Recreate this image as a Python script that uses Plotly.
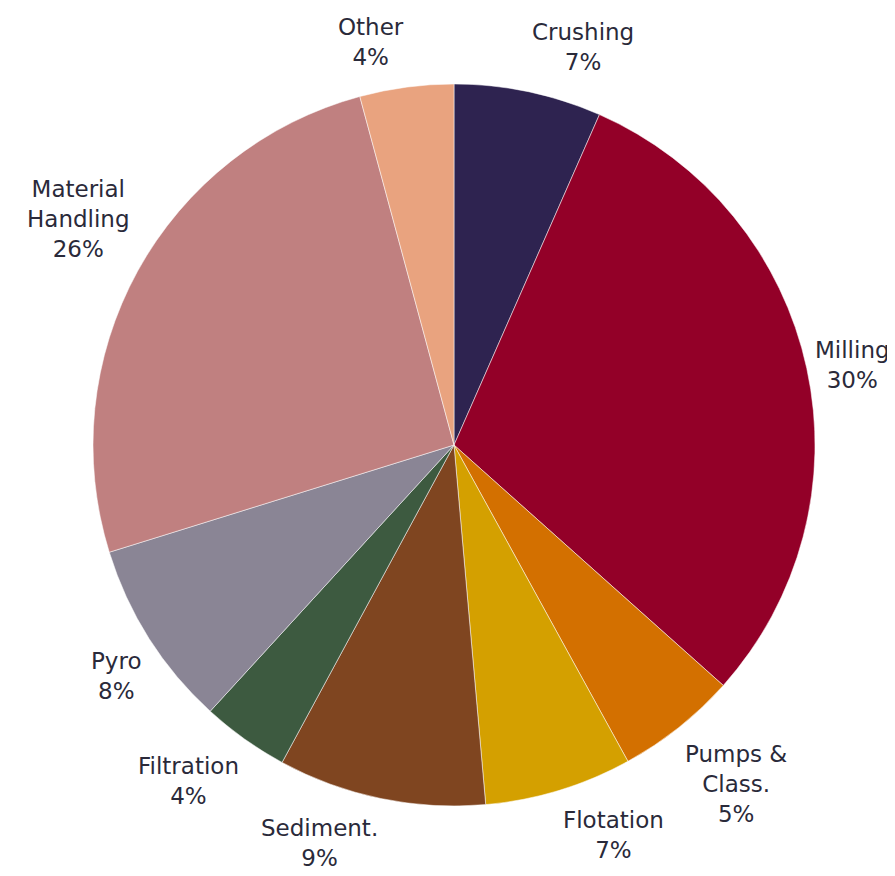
import math
import plotly.graph_objects as go

labels = ["Crushing", "Milling", "Pumps &<br>Class.", "Flotation", "Sediment.",
          "Filtration", "Pyro", "Material<br>Handling", "Other"]
values = [6.6, 30.0, 5.4, 6.6, 9.3, 3.9, 8.4, 25.6, 4.2]
pct_labels = ["7%", "30%", "5%", "7%", "9%", "4%", "8%", "26%", "4%"]
colors = ["#2e2350", "#930028", "#d37000", "#d4a000", "#7f4520",
          "#3d5a40", "#8a8595", "#c08080", "#e9a37f"]

W, H = 895, 876
cx, cy, r = 446, 437, 361
gap_x, gap_y = 6, 15

fig = go.Figure(go.Pie(
    labels=labels,
    values=values,
    textinfo="none",
    sort=False,
    direction="clockwise",
    rotation=0,
    marker=dict(colors=colors, line=dict(color="rgba(255,255,255,0.5)", width=1)),
    showlegend=False,
    hoverinfo="label+percent",
    domain=dict(x=[(cx - r) / W, (cx + r) / W], y=[(H - cy - r) / H, (H - cy + r) / H]),
))

# outside labels placed around the slice mid-angles (Excel-like anchoring)
total = sum(values)
cum = 0.0
annotations = []
for lab, pct, v in zip(labels, pct_labels, values):
    mid = (cum + v / 2) / total * 2 * math.pi
    cum += v
    s, c = math.sin(mid), math.cos(mid)
    px = cx + (r + gap_x) * s
    py = cy - (r + gap_y) * c
    xanchor = "left" if s > 0.1 else ("right" if s < -0.1 else "center")
    yanchor = "bottom" if c > 0.45 else ("top" if c < -0.5 else "middle")
    annotations.append(dict(
        x=px / W, y=1 - py / H, xref="paper", yref="paper",
        text=f"{lab}<br>{pct}", showarrow=False,
        xanchor=xanchor, yanchor=yanchor, align="center",
        font=dict(family="DejaVu Sans, Verdana, sans-serif", size=23, color="#2a2a3a"),
    ))

fig.update_layout(
    width=W, height=H,
    margin=dict(l=0, r=0, t=0, b=0),
    paper_bgcolor="white",
    plot_bgcolor="white",
    annotations=annotations,
)
fig.write_html("out.html")
